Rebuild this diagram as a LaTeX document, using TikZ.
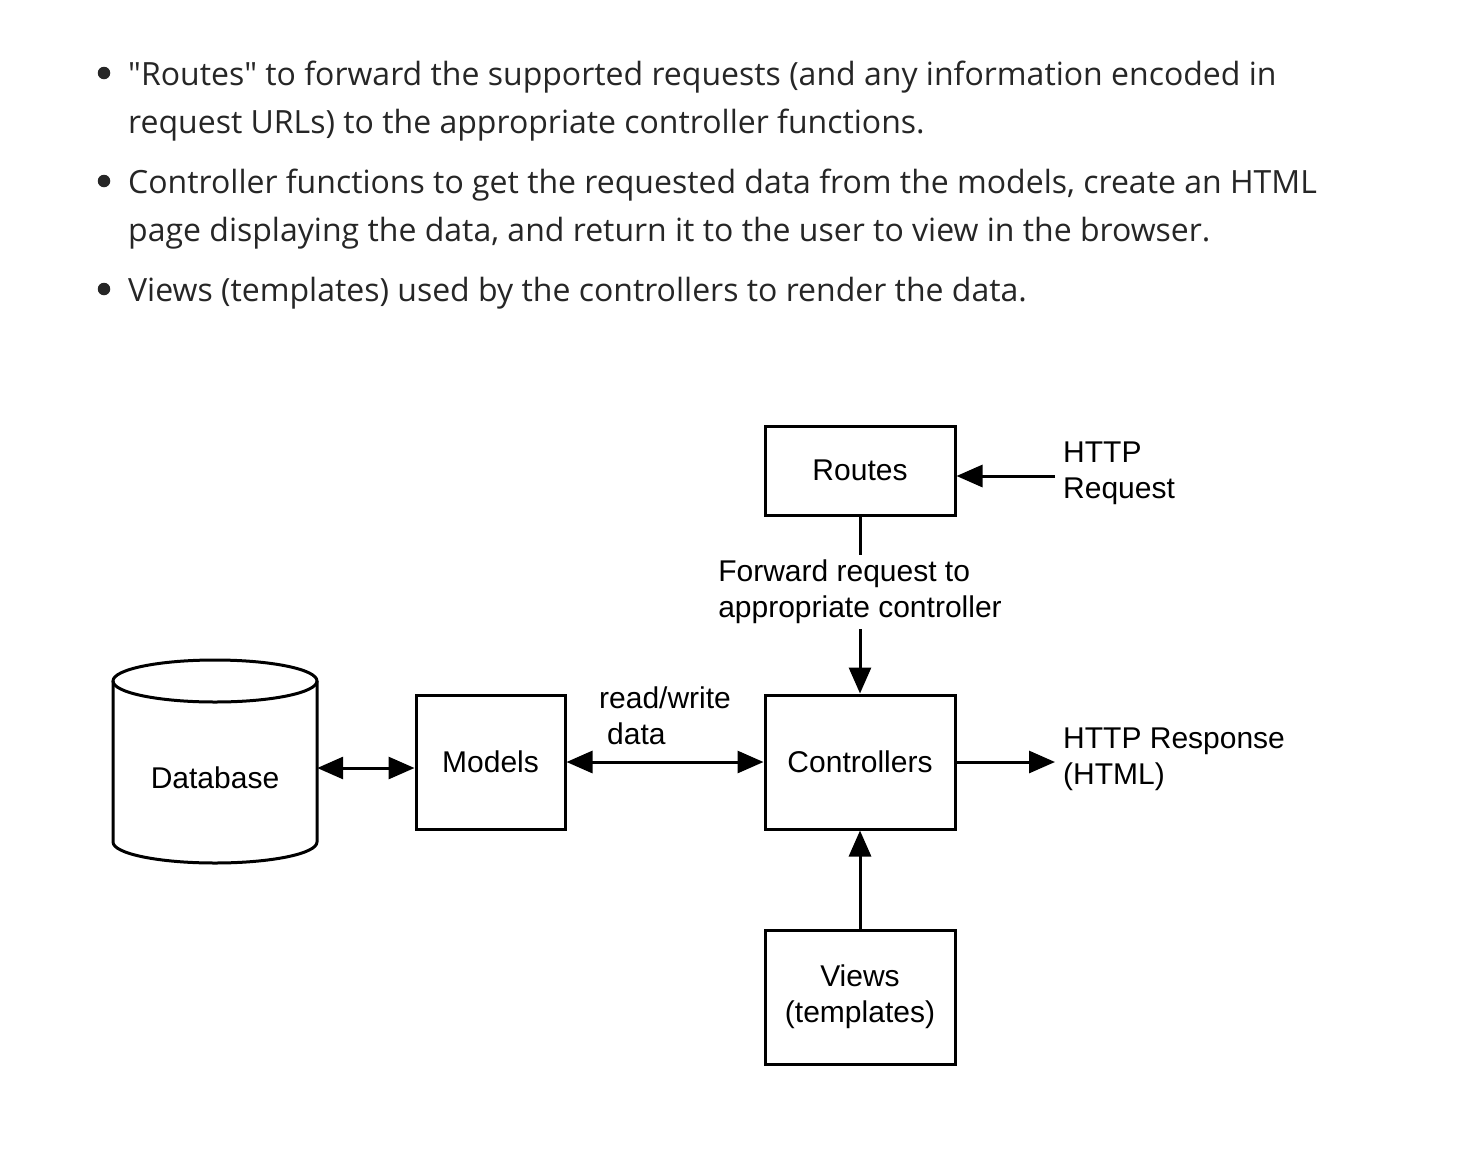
\documentclass[tikz,border=0pt]{standalone}
\usepackage{fontspec}
\setmainfont{Liberation Sans}
\newfontfamily\bodyfont{Open Sans}
\usetikzlibrary{arrows.meta}
\definecolor{bodytext}{HTML}{262626}
\begin{document}
\begin{tikzpicture}[x=1pt,y=-1pt,
  box/.style={draw, line width=3pt, minimum width=190pt, minimum height=134pt, inner sep=0pt, align=center, font=\fontsize{30}{36}\selectfont},
  lbl/.style={inner sep=0pt, align=left, font=\fontsize{30}{36}\selectfont},
  conn/.style={line width=3pt, -{Triangle[length=26pt,width=22pt]}},
  biconn/.style={line width=3pt, {Triangle[length=26pt,width=22pt]}-{Triangle[length=26pt,width=22pt]}},
  plain/.style={line width=3pt},
  bul/.style={anchor=base west, inner sep=0pt, text=bodytext, font=\bodyfont\fontsize{32}{48}\selectfont},
  dot/.style={circle, fill=bodytext, minimum size=12.5pt, inner sep=0pt}
]
\useasboundingbox[fill=white] (0,0) rectangle (1462,1168);

% bullets
\node[dot] (d1) at (104,73) {};
\node[dot] (d2) at (104,181) {};
\node[dot] (d3) at (104,289) {};
\node[bul] (t1) at (128,85) {"Routes" to forward the supported requests (and any information encoded in};
\node[bul] (t2) at (128,133) {request URLs) to the appropriate controller functions.};
\node[bul] (t3) at (128,193) {Controller functions to get the requested data from the models, create an HTML};
\node[bul] (t4) at (128,241) {page displaying the data, and return it to the user to view in the browser.};
\node[bul] (t5) at (128,301) {Views (templates) used by the controllers to render the data.};

% boxes
\node[box, minimum height=89pt] (routes) at (860,470.5) {Routes};
\node[box] (ctrl) at (860,762) {Controllers};
\node[box, minimum width=149pt] (models) at (490.5,762) {Models};
\node[box] (views) at (860,997) {Views\\(templates)};

% database cylinder
\node[minimum width=204pt, minimum height=202pt, inner sep=0pt] (db) at (215,761) {};
\draw[plain] (113,681) -- (113,842) arc[start angle=180, end angle=360, x radius=102pt, y radius=21pt] -- (317,681);
\draw[plain] (215,681) ellipse [x radius=102pt, y radius=21pt];
\node[lbl] (dbl) at (215,778) {Database};

% labels
\node[lbl, anchor=west] (req) at (1063,473) {HTTP\\Request};
\node[lbl, anchor=west] (resp) at (1063,759) {HTTP Response\\(HTML)};
\node[lbl, inner ysep=5pt] (fwd) at (860,592) {Forward request to\\appropriate controller};
\node[lbl, anchor=west] (rw) at (599,716) {read/write\\\hspace*{8pt}data};

% connectors
\coordinate (reqend) at (1055,476);
\coordinate (respend) at (1055,762);
\draw[conn] (reqend) -- (reqend -| routes.east);
\draw[plain] (routes.south) -- (fwd.north);
\draw[conn] (fwd.south) -- (ctrl.north);
\draw[conn] (ctrl.east) -- (respend);
\draw[conn] (views.north) -- (ctrl.south);
\draw[biconn] (models.east) -- (ctrl.west);
\draw[biconn] ([yshift=-7pt]db.east) -- ([yshift=-7pt]db.east -| models.west);
\end{tikzpicture}
\end{document}
